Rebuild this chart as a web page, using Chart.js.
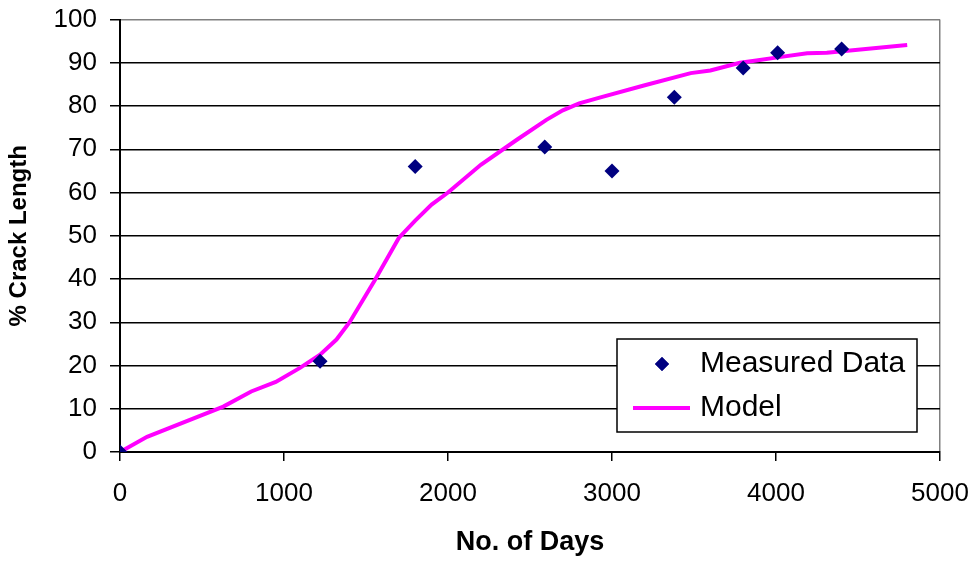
<!DOCTYPE html>
<html>
<head>
<meta charset="utf-8">
<script src="https://cdn.jsdelivr.net/npm/chart.js@4.4.1/dist/chart.umd.min.js"></script>
<style>
  html, body { margin: 0; padding: 0; background: #fff; }
  #wrap { width: 974px; height: 562px; }
</style>
</head>
<body>
<div id="wrap"><canvas id="grafico" width="974" height="562"></canvas></div>
<script>
// Dados medidos (dias, % comprimento da trinca)
const measuredDays = [0, 1220, 1800, 2590, 3000, 3380, 3800, 4010, 4400];
const measuredPct = [0, 21, 66, 70.5, 65, 82, 88.8, 92.3, 93.2];

// Curva do modelo
const modelDays = [0, 165, 630, 800, 950, 1100, 1220, 1320, 1400, 1550, 1700, 1800, 1900, 2000,
    2200, 2420, 2600, 2700, 2800, 2930, 3200, 3480, 3600, 3780, 3880, 4020, 4190, 4310, 4800];
const modelPct = [0, 3.5, 10.5, 14, 16.2, 19.5, 22.5, 26, 30, 39.5, 49.5, 53.5, 57.2, 60,
    66.4, 72.2, 76.8, 79, 80.6, 82, 84.8, 87.6, 88.2, 90, 90.5, 91.3, 92.2, 92.3, 94.1];

const xTicks = [0, 1000, 2000, 3000, 4000, 5000];
const yTicks = [0, 10, 20, 30, 40, 50, 60, 70, 80, 90, 100];

const CORES = {
    medido: '#000080',
    modelo: '#FF00FF',
    grade: '#000000',
    borda: '#808080',
    texto: '#000000',
};

const FONTE = "'Liberation Sans', Arial, sans-serif";

const toPoints = (xs, ys) => xs.map((x, i) => ({ x: x, y: ys[i] }));

// Legenda desenhada dentro da área do gráfico
const legendaBox = {
    id: 'legendaBox',
    afterDraw(chart) {
        const ctx = chart.ctx;
        const ds = chart.data.datasets;
        const box = { x: 617, y: 339, w: 300, h: 93 };
        ctx.save();
        ctx.fillStyle = '#fff';
        ctx.fillRect(box.x, box.y, box.w, box.h);
        ctx.strokeStyle = '#000';
        ctx.lineWidth = 1.5;
        ctx.strokeRect(box.x, box.y, box.w, box.h);

        ctx.font = '30px ' + FONTE;
        ctx.textBaseline = 'middle';
        ctx.textAlign = 'left';

        // Entrada 1: losango
        const y1 = box.y + 25;
        ctx.fillStyle = ds[0].pointBackgroundColor;
        Chart.helpers.drawPoint(ctx, { pointStyle: 'rectRot', radius: 7, borderWidth: 0 }, 662, y1);
        ctx.fill();
        ctx.fillStyle = CORES.texto;
        ctx.fillText(ds[0].label, 700, y1);

        // Entrada 2: linha
        const y2 = box.y + 69;
        ctx.strokeStyle = ds[1].borderColor;
        ctx.lineWidth = ds[1].borderWidth;
        ctx.beginPath();
        ctx.moveTo(633, y2);
        ctx.lineTo(690, y2);
        ctx.stroke();
        ctx.fillText(ds[1].label, 700, y2);
        ctx.restore();
    },
};

new Chart(document.getElementById('grafico'), {
    type: 'scatter',
    data: {
        datasets: [
            {
                label: 'Measured Data',
                data: toPoints(measuredDays, measuredPct),
                pointStyle: 'rectRot',
                pointRadius: 7.5,
                pointBackgroundColor: CORES.medido,
                pointBorderColor: CORES.medido,
                pointBorderWidth: 0,
                showLine: false,
            },
            {
                label: 'Model',
                data: toPoints(modelDays, modelPct),
                borderColor: CORES.modelo,
                borderWidth: 4,
                pointRadius: 0,
                showLine: true,
                tension: 0,
            },
        ],
    },
    options: {
        responsive: false,
        animation: false,
        layout: { padding: { top: 19.5, right: 34, bottom: 0, left: 0 } },
        plugins: {
            legend: { display: false },
            tooltip: { enabled: false },
        },
        scales: {
            x: {
                type: 'linear',
                min: 0,
                max: 5000,
                afterBuildTicks: (scale) => { scale.ticks = xTicks.map(v => ({ value: v })); },
                afterFit: (scale) => {
                    scale.height = 110;
                    scale.paddingLeft = 0;
                    scale.paddingRight = 0;
                },
                grid: {
                    color: (ctx) => ctx.tick && ctx.tick.value === 5000 ? CORES.borda : 'transparent',
                    tickColor: CORES.grade,
                    tickLength: 9,
                    lineWidth: 1.5,
                },
                border: { color: CORES.grade, width: 2 },
                ticks: {
                    color: CORES.texto,
                    font: { family: FONTE, size: 26 },
                    padding: 17,
                    maxRotation: 0,
                    callback: (v) => String(v),
                },
                title: {
                    display: true,
                    text: 'No. of Days',
                    color: CORES.texto,
                    font: { family: FONTE, size: 27, weight: 'bold' },
                    padding: { top: 0, bottom: 3 },
                },
            },
            y: {
                type: 'linear',
                min: 0,
                max: 100,
                afterBuildTicks: (scale) => { scale.ticks = yTicks.map(v => ({ value: v })); },
                afterFit: (scale) => {
                    scale.width = 120;
                    scale.paddingTop = 0;
                    scale.paddingBottom = 0;
                },
                grid: {
                    color: (ctx) => ctx.tick && ctx.tick.value === 100 ? CORES.borda : CORES.grade,
                    tickColor: CORES.grade,
                    tickLength: 10,
                    lineWidth: 1.5,
                },
                border: { color: CORES.grade, width: 2 },
                ticks: {
                    color: CORES.texto,
                    font: { family: FONTE, size: 26 },
                    padding: 13,
                },
                title: {
                    display: true,
                    text: '% Crack Length',
                    color: CORES.texto,
                    font: { family: FONTE, size: 24, weight: 'bold' },
                    padding: { top: 5, bottom: 0 },
                },
            },
        },
    },
    plugins: [legendaBox],
});
</script>
</body>
</html>
